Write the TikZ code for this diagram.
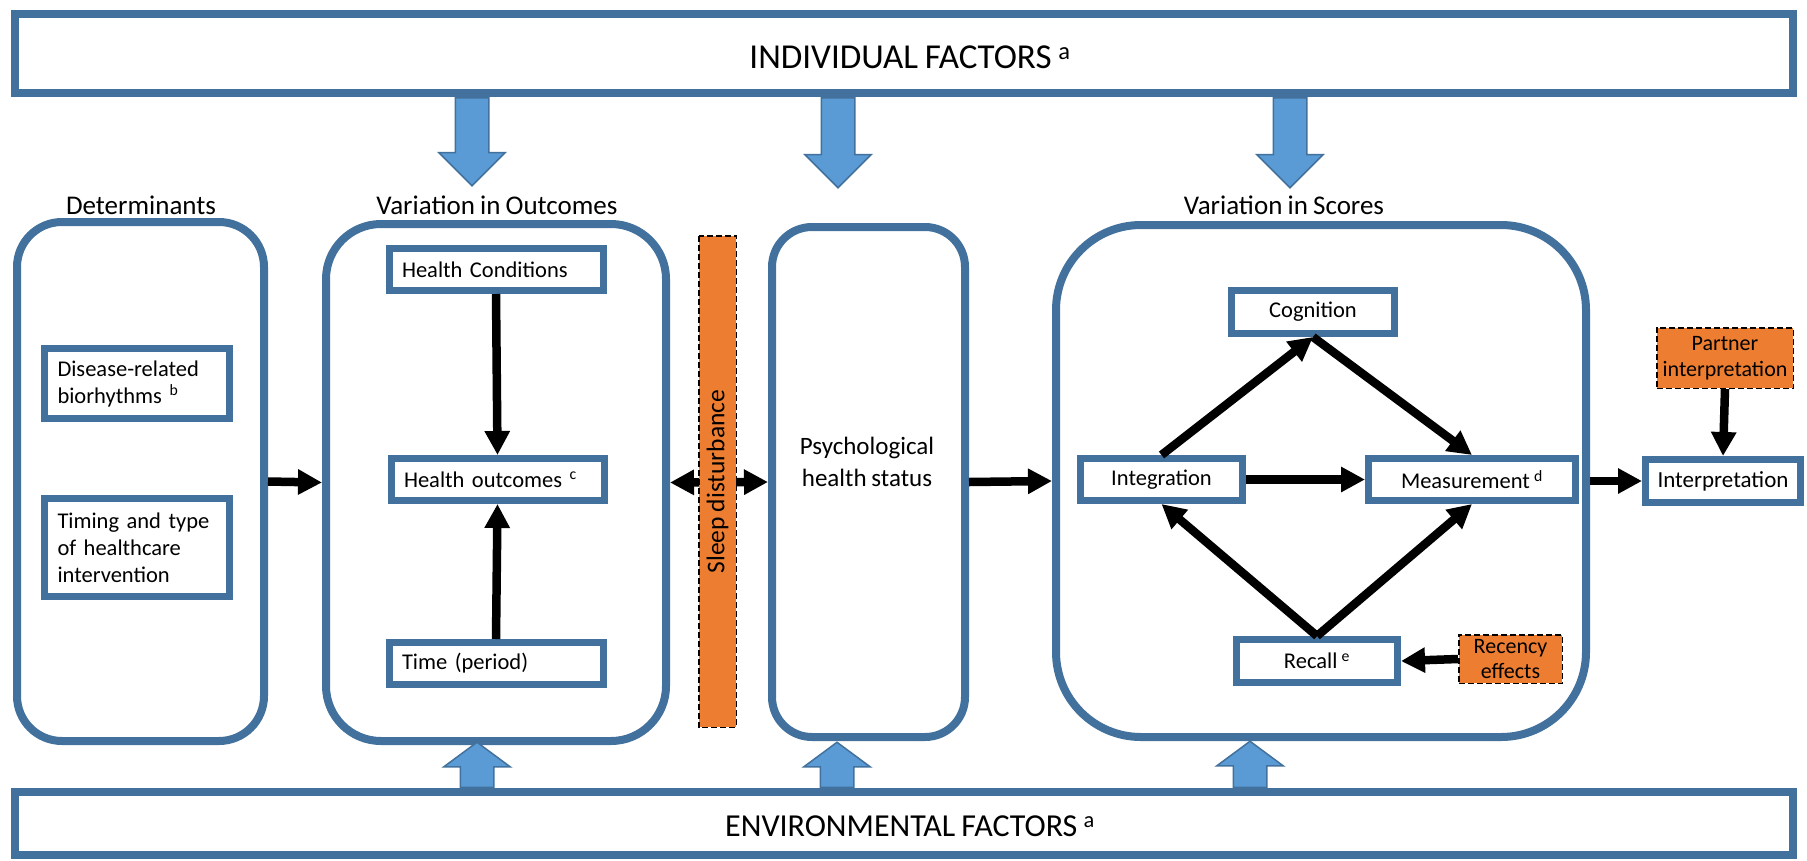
\documentclass[tikz,border=0pt]{standalone}
\usepackage{fontspec}
\setmainfont{Carlito}[WordSpace=0.85]
\usepackage{tikz}
\usetikzlibrary{shapes,arrows.meta,positioning}

\definecolor{borderBlue}{RGB}{65,113,156}
\definecolor{arrowBlue}{RGB}{91,155,213}
\definecolor{noteOrange}{RGB}{237,125,49}

\begin{document}
\begin{tikzpicture}[
    x=1pt, y=-1pt,
    font=\fontsize{22.5}{27}\selectfont,
    factorBox/.style={
        rectangle, draw=borderBlue, line width=8pt, fill=white,
        minimum width=1778pt, inner sep=0pt
    },
    groupBox/.style={
        rectangle, draw=borderBlue, line width=8pt, fill=white, inner sep=0pt
    },
    itemBox/.style={
        rectangle, draw=borderBlue, line width=7pt, fill=white,
        inner sep=0pt, align=center
    },
    leftItem/.style={itemBox, align=left, inner xsep=13pt},
    noteBox/.style={
        rectangle, draw=black, line width=1.5pt, dash pattern=on 6pt off 3pt,
        fill=noteOrange, inner sep=0pt, align=center
    },
    blockArrow/.style={
        single arrow, draw=borderBlue, line width=1.5pt, fill=arrowBlue,
        inner xsep=0pt, inner ysep=16pt, single arrow head extend=16.5pt
    },
    link/.style={-{Triangle[length=24pt, width=24pt]}, line width=8.5pt},
    dlink/.style={{Triangle[length=24pt, width=24pt]}-{Triangle[length=24pt, width=24pt]}, line width=8.5pt},
    groupLabel/.style={font=\fontsize{27}{32}\selectfont},
    factorLabel/.style={font=\fontsize{32}{38}\selectfont}
]
\useasboundingbox (0,0) rectangle (1807,860);

% Factor bands
\node[factorBox, minimum height=79pt] (indiv) at (904, 53.5) {};
\node[factorLabel, font=\fontsize{35}{40}\selectfont] at (910, 57) {INDIVIDUAL FACTORS \textsuperscript{a}};

\node[factorBox, minimum height=63pt] (env) at (904, 823.5) {};
\node[factorLabel] at (910, 826) {ENVIRONMENTAL FACTORS \textsuperscript{a}};

% Group headings
\node[groupLabel] at (141, 205) {Determinants};
\node[groupLabel] at (497, 205) {Variation in Outcomes};
\node[groupLabel] at (1284, 205) {Variation in Scores};

% Groups
\node[groupBox, rounded corners=45pt, minimum width=247pt, minimum height=519pt] (det) at (140.5, 481.5) {};
\node[groupBox, rounded corners=55pt, minimum width=340pt, minimum height=517pt] (outc) at (496, 482.5) {};
\node[groupBox, rounded corners=40pt, minimum width=193pt, minimum height=510pt] (psych) at (868.5, 482) {};
\node[font=\fontsize{25}{32}\selectfont, align=center] at (867, 462) {Psychological\\health status};
\node[groupBox, rounded corners=85pt, minimum width=530pt, minimum height=512pt] (scores) at (1321, 481) {};

% Determinants
\node[leftItem, text width=159pt, minimum height=70pt] (dis) at (137, 383.5) {Disease-related\\biorhythms \textsuperscript{b}};
\node[leftItem, text width=159pt, minimum height=98pt] (tim) at (137, 547.5) {Timing and type\\of healthcare\\intervention};

% Outcomes
\node[leftItem, text width=188pt, minimum height=42pt] (hc) at (496, 269.5) {Health Conditions};
\node[leftItem, text width=187pt, minimum height=42pt] (ho) at (497.5, 479.5) {Health outcomes \textsuperscript{c}};
\node[leftItem, text width=188pt, minimum height=42pt] (tp) at (496, 663.5) {Time (period)};

% Scores
\node[itemBox, minimum width=163pt, minimum height=43pt] (cog) at (1313, 312) {Cognition};
\node[itemBox, minimum width=162pt, minimum height=42pt] (integ) at (1161.5, 479.5) {Integration};
\node[itemBox, minimum width=207pt, minimum height=42pt] (meas) at (1472, 479.5) {Measurement \textsuperscript{d}};
\node[itemBox, minimum width=161pt, minimum height=43pt] (recall) at (1317, 661) {Recall \textsuperscript{e}};
\node[noteBox, minimum width=103.5pt, minimum height=48.5pt, font=\fontsize{22}{25}\selectfont] (recency) at (1510.5, 659) {Recency\\effects};

% Interpretation
\node[itemBox, minimum width=155pt, minimum height=43pt, font=\fontsize{23}{27}\selectfont] (interp) at (1723, 481) {Interpretation};
\node[noteBox, minimum width=136.5pt, minimum height=60.5pt, font=\fontsize{22}{26}\selectfont] (partner) at (1725, 358) {Partner\\interpretation};

% Influence arrows
\node[blockArrow, rotate=-90, anchor=tail, minimum height=88pt, single arrow tip angle=90] (indA) at (472, 97) {};
\node[blockArrow, rotate=-90, anchor=tail, minimum height=90pt, single arrow tip angle=90] (indB) at (838, 97) {};
\node[blockArrow, rotate=-90, anchor=tail, minimum height=90pt, single arrow tip angle=90] (indC) at (1290, 97) {};
\node[blockArrow, rotate=90, anchor=tail, minimum height=45pt, single arrow tip angle=107] (envA) at (477, 788) {};
\node[blockArrow, rotate=90, anchor=tail, minimum height=45pt, single arrow tip angle=107] (envB) at (837, 788) {};
\node[blockArrow, rotate=90, anchor=tail, minimum height=46pt, single arrow tip angle=107] (envC) at (1250, 788) {};

% Links
\draw[link] (det.east) -- (outc.west);
\draw[link] (hc.south) -- (ho.north);
\draw[link] (tp.north) -- (ho.south);
\draw[dlink] (outc.east) -- (psych.west);
\draw[link] (psych.east) -- (scores.west);
\draw[link] (integ.north) -- (cog.south);
\draw[link] (cog.south) -- (meas.north);
\draw[link] (integ.east) -- (meas.west);
\draw[link] (recall.north) -- (integ.south);
\draw[link] (recall.north) -- (meas.south);
\draw[link] (recency.west) -- (recall.east);
\draw[link] (scores.east) -- (interp.west);
\draw[link] (partner.south) -- (interp.north);

% Sleep disturbance
\node[noteBox, rotate=90, minimum width=491.5pt, minimum height=37.5pt, font=\fontsize{25.5}{28}\selectfont] (sleep) at (717.5, 481.5) {Sleep disturbance};

\end{tikzpicture}
\end{document}
